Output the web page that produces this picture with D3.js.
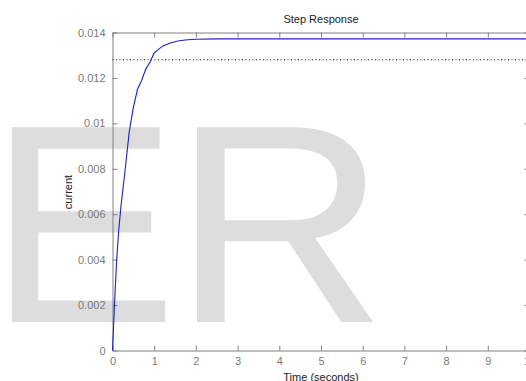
<!DOCTYPE html>
<html>
<head>
<meta charset="utf-8">
<script src="https://cdn.jsdelivr.net/npm/d3@7"></script>
<style>
  html, body { margin: 0; padding: 0; background: #ffffff; }
  svg { display: block; }
  text { font-family: "Liberation Sans", Arial, sans-serif; }
</style>
</head>
<body>
<script>
// Step response samples: time (s) and current
const time    = [0, 0.05, 0.1, 0.15, 0.2, 0.3, 0.4, 0.5, 0.6, 0.7, 0.8, 0.9, 1.0, 1.2, 1.4, 1.6, 1.8, 2.0, 2.5, 3, 4, 5, 6, 7, 8, 9, 10];
const current = [0, 0.0021, 0.0040, 0.0053, 0.0063, 0.0079, 0.0096, 0.0107, 0.0115, 0.0119, 0.0124, 0.0127, 0.0131, 0.0134, 0.01355, 0.01364, 0.01368, 0.0137, 0.01372, 0.01372, 0.01372, 0.01372, 0.01372, 0.01372, 0.01372, 0.01372, 0.01372];
const referenceLevel = [0.0128];
const timeTicks = [0, 1, 2, 3, 4, 5, 6, 7, 8, 9, 10];
const currentTicks = [0, 0.002, 0.004, 0.006, 0.008, 0.01, 0.012, 0.014];
const titleText = "Step Response";
const xLabel = "Time (seconds)";
const yLabel = "current";
const watermarkLetters = ["E", "R"];

const W = 526, H = 381;
const svg = d3.select("body").append("svg").attr("width", W).attr("height", H);

// Large light watermark letters behind the plot
const wmFont = 283;
const wmPlacement = [
  { tx: 11, sx: 1.0, bearing: 22.4 },
  { tx: 197, sx: 1.048, bearing: 23.2 }
];
svg.selectAll(".wm").data(watermarkLetters).enter().append("text")
  .attr("class", "wm")
  .attr("transform", (d, i) => `translate(${wmPlacement[i].tx},322) scale(${wmPlacement[i].sx},1)`)
  .attr("x", (d, i) => -wmPlacement[i].bearing)
  .attr("font-size", wmFont)
  .attr("fill", "#dddddd")
  .text(d => d);

const x = d3.scaleLinear().domain([0, 10]).range([112.5, 529.5]);
const y = d3.scaleLinear().domain([0, 0.014]).range([350.5, 32.5]);

const axisColor = "#808080";
function styleAxis(g) {
  g.select(".domain").attr("stroke", axisColor);
  g.selectAll(".tick line").attr("stroke", axisColor);
  g.selectAll(".tick text").attr("fill", "#7a7a7a").attr("font-size", 11)
    .attr("font-family", "Liberation Sans, Arial, sans-serif");
}

// Bottom and top axes (ticks pointing inward)
svg.append("g").attr("transform", `translate(0,${y(0)})`)
  .call(d3.axisBottom(x).tickValues(timeTicks).tickFormat(d3.format("d"))
    .tickSizeInner(-5).tickSizeOuter(0).tickPadding(7))
  .call(styleAxis);
svg.append("g").attr("transform", `translate(0,${y(0.014)})`)
  .call(d3.axisTop(x).tickValues(timeTicks).tickFormat("")
    .tickSizeInner(-5).tickSizeOuter(0))
  .call(styleAxis);

// Left and right axes
svg.append("g").attr("transform", `translate(${x(0)},0)`)
  .call(d3.axisLeft(y).tickValues(currentTicks).tickFormat(d => d === 0 ? "0" : String(+d.toFixed(3)))
    .tickSizeInner(-5).tickSizeOuter(0).tickPadding(7))
  .call(styleAxis);
svg.append("g").attr("transform", `translate(${x(10)},0)`)
  .call(d3.axisRight(y).tickValues(currentTicks).tickFormat("")
    .tickSizeInner(-5).tickSizeOuter(0))
  .call(styleAxis);

// Dotted reference level
svg.selectAll(".ref").data(referenceLevel).enter().append("line")
  .attr("x1", x(0)).attr("x2", x(10))
  .attr("y1", d => y(d)).attr("y2", d => y(d))
  .attr("stroke", "#000000").attr("stroke-width", 1)
  .attr("stroke-dasharray", "1,2.5");

// Response curve
const pts = time.map((t, i) => [t, current[i]]);
svg.append("path")
  .datum(pts)
  .attr("fill", "none")
  .attr("stroke", "#2222c0")
  .attr("stroke-width", 1.1)
  .attr("d", d3.line().x(d => x(d[0])).y(d => y(d[1])));

// Title and axis labels
svg.append("text").attr("x", 321).attr("y", 23).attr("text-anchor", "middle")
  .attr("font-size", 11).attr("fill", "#222").text(titleText);
svg.append("text").attr("x", 321).attr("y", 381).attr("text-anchor", "middle")
  .attr("font-size", 11).attr("fill", "#222").text(xLabel);
svg.append("text").attr("transform", "translate(72,192) rotate(-90)")
  .attr("text-anchor", "middle")
  .attr("font-size", 11).attr("fill", "#222").text(yLabel);
</script>
</body>
</html>
